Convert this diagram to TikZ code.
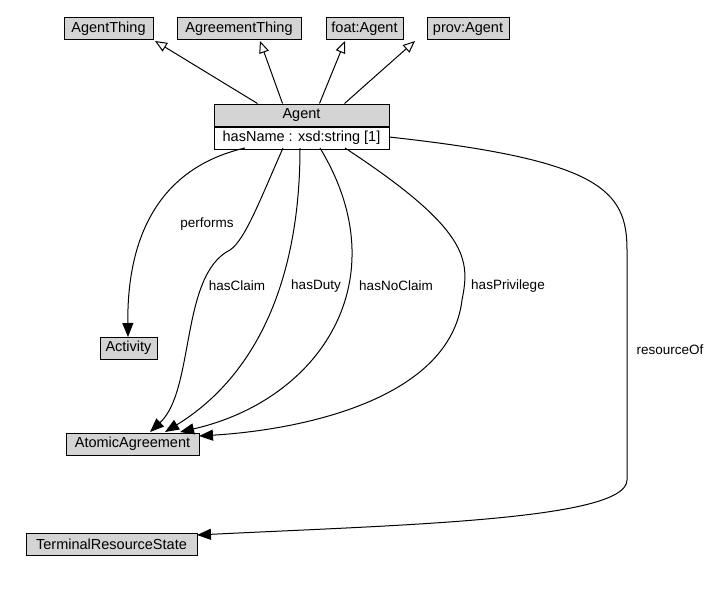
\documentclass[tikz,border=0pt]{standalone}
\usepackage{fontspec}
\setmainfont{Liberation Sans}
\usetikzlibrary{arrows.meta}
\tikzset{
  cls/.style={draw,fill=black!17,inner sep=1pt,minimum height=22pt,font=\fontsize{14.5}{16}\selectfont},
  isa/.style={line width=1pt,-{Triangle[open,length=12pt,width=10pt]}},
  rel/.style={line width=1pt,-{Triangle[length=14pt,width=11pt]}},
  lbl/.style={fill=white,inner sep=1pt,font=\fontsize{13.5}{15}\selectfont},
}
\begin{document}
\begin{tikzpicture}[x=1pt,y=-1pt,line width=1pt]
  \useasboundingbox (0,0) rectangle (714,594);
  % superclasses
  \node [cls,minimum width=89pt] (agentthing) at (108.5,29) {AgentThing};
  \node [cls,minimum width=124pt] (agreementthing) at (239,29) {AgreementThing};
  \node [cls,minimum width=77pt] (foatagent) at (364.5,29) {foat:Agent};
  \node [cls,minimum width=82pt] (provagent) at (468,29) {prov:Agent};
  % agent class
  \node [draw,fill=black!17,minimum width=175pt,minimum height=22pt,inner sep=0pt,font=\fontsize{14.5}{16}\selectfont] (agent) at (301.5,115) {Agent};
  \node [draw,fill=white,minimum width=175pt,minimum height=22pt,inner sep=0pt,font=\fontsize{14.5}{16}\selectfont,anchor=north] (agentattr) at (agent.south) {hasName : xsd:string [1]};
  % targets
  \node [cls,minimum width=57pt] (activity) at (128.5,348) {Activity};
  \node [cls,minimum width=133pt] (atomic) at (132.5,444) {AtomicAgreement};
  \node [cls,minimum width=171pt] (terminal) at (111.5,544) {TerminalResourceState};
  % generalisation
  \draw [isa] (agent.north west) ++(44,0) -- (155,41);
  \draw [isa] (agent.north west) ++(69,0) -- (260,41);
  \draw [isa] (agent.north west) ++(106,0) -- (345,41);
  \draw [isa] (agent.north west) ++(131,0) -- (415,41);
  % relations
  \draw [rel] (245,148) .. controls (150,170) and (127,250) .. (128,337);
  \node [lbl] (lperf) at (207,224) {performs};
  \draw [rel] (283,148) .. controls (260,200) and (245,240) .. (230,250)
    .. controls (180,275) and (195,390) .. (150,432);
  \node [lbl] (lclaim) at (237,286) {hasClaim};
  \draw [rel] (300,148) .. controls (300,290) and (250,380) .. (165,432);
  \node [lbl] (lduty) at (316,286) {hasDuty};
  \draw [rel] (320,148) .. controls (400,280) and (320,400) .. (180,432);
  \node [lbl] (lnoclaim) at (396,286) {hasNoClaim};
  \draw [rel] (345,148) .. controls (470,230) and (470,260) .. (462,300)
    .. controls (450,400) and (300,430) .. (199,436);
  \node [lbl] (lpriv) at (508,286) {hasPrivilege};
  \draw [rel] (389,137) .. controls (600,160) and (627,190) .. (627,250)
    -- (627,480) .. controls (627,520) and (400,525) .. (197,535);
  \node [lbl] (lres) at (670,350) {resourceOf};
\end{tikzpicture}
\end{document}
